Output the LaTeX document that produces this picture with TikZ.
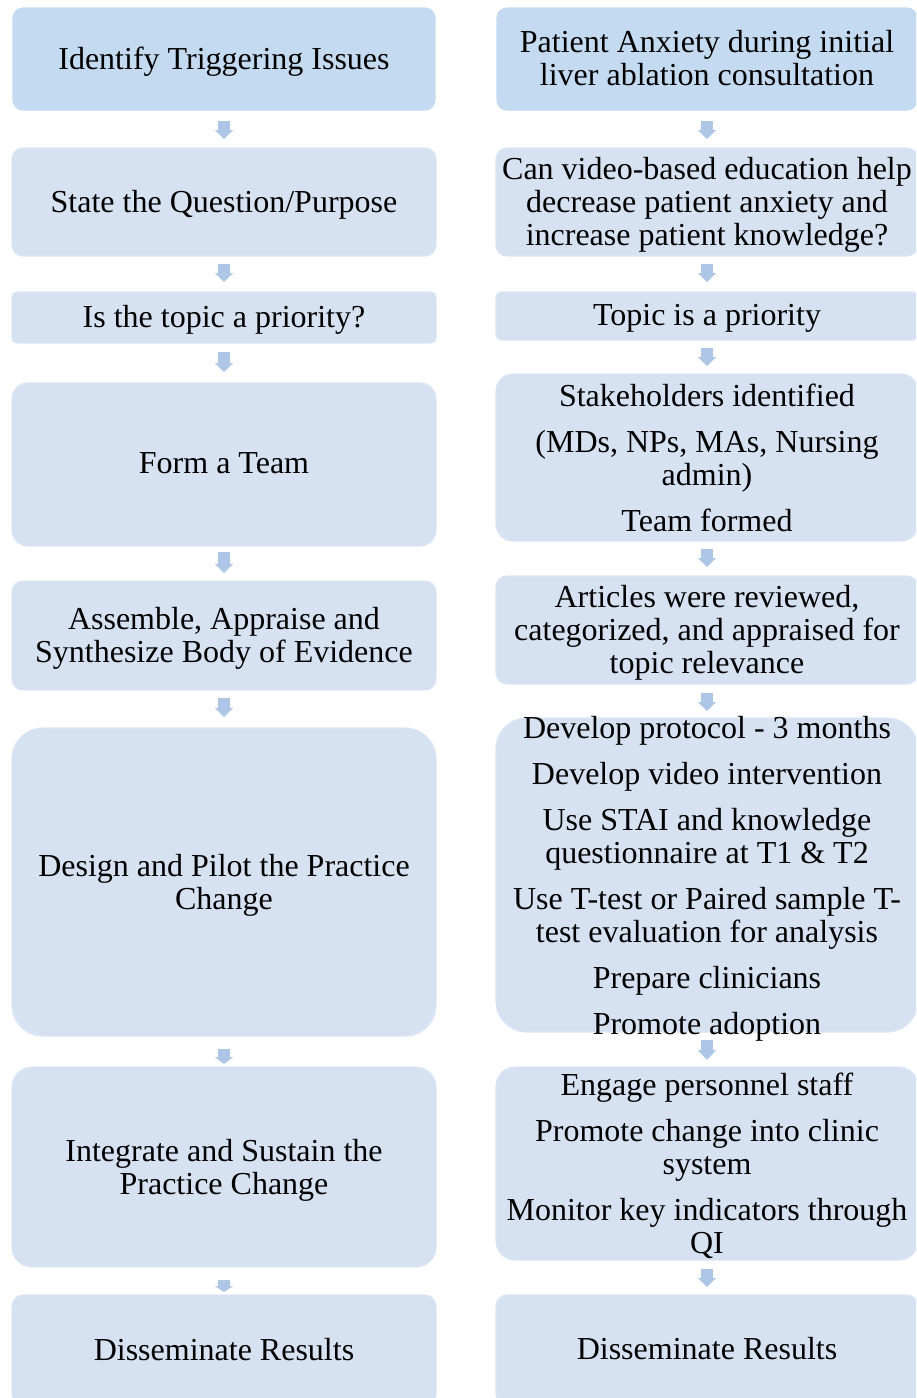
\documentclass[tikz,border=0pt]{standalone}
\usepackage{fontspec}
\setmainfont{Liberation Serif}
\usetikzlibrary{arrows.meta}

\definecolor{topfill}{HTML}{C4DAF0}
\definecolor{boxfill}{HTML}{D6E2F2}
\definecolor{boxedge}{HTML}{DCE6F4}
\definecolor{arrowc}{HTML}{AEC6E5}

\tikzset{
  box/.style={draw=boxedge, line width=1.2pt, fill=boxfill, inner sep=0pt, outer sep=0pt},
  topbox/.style={box, fill=topfill, draw=topfill},
  lcol/.style={minimum width=424pt},
  rcol/.style={minimum width=422pt},
  txt/.style={align=center, inner sep=0pt, yshift=-3pt, font=\fontsize{32}{33}\selectfont},
  barrow/.style={draw=arrowc, line width=12pt, -{Triangle[width=18pt,length=#1]}},
  barrow/.default=9pt
}

\newcommand{\pgap}{\\[13pt]}

\begin{document}
\begin{tikzpicture}[x=1pt, y=-1pt]
\useasboundingbox (0,0) rectangle (916,1398);
\clip (0,0) rectangle (916,1398);

% ---- left column: process steps ----
\node[topbox, minimum width=422pt, minimum height=102pt, rounded corners=10pt] (L1) at (224,59) {};
\node[box, lcol, minimum height=108pt, rounded corners=11pt] (L2) at (224,202) {};
\node[box, lcol, minimum height=51pt,  rounded corners=5pt]  (L3) at (224,317.5) {};
\node[box, lcol, minimum height=163pt, rounded corners=16pt] (L4) at (224,464.5) {};
\node[box, lcol, minimum height=109pt, rounded corners=11pt] (L5) at (224,635.5) {};
\node[box, lcol, minimum height=308pt, rounded corners=31pt] (L6) at (224,882) {};
\node[box, lcol, minimum height=200pt, rounded corners=20pt] (L7) at (224,1167) {};
\node[box, lcol, minimum height=110pt, rounded corners=11pt] (L8) at (224,1350) {};

\node[txt] (L1t) at (L1.center) {Identify Triggering Issues};
\node[txt] (L2t) at (L2.center) {State the Question/Purpose};
\node[txt, yshift=1pt] (L3t) at (L3.center) {Is the topic a priority?};
\node[txt, yshift=4pt] (L4t) at (L4.center) {Form a Team};
\node[txt] (L5t) at (L5.center) {Assemble, Appraise and\\Synthesize Body of Evidence};
\node[txt] (L6t) at (L6.center) {Design and Pilot the Practice\\Change};
\node[txt] (L7t) at (L7.center) {Integrate and Sustain the\\Practice Change};
\node[txt, yshift=3pt] (L8t) at (L8.center) {Disseminate Results};

% ---- right column: project details ----
\node[topbox, minimum width=420pt, minimum height=102pt, rounded corners=10pt] (R1) at (707,59) {};
\node[box, rcol, minimum height=108pt, rounded corners=11pt] (R2) at (707,202) {};
\node[box, rcol, minimum height=48pt,  rounded corners=5pt]  (R3) at (707,316) {};
\node[box, rcol, minimum height=167pt, rounded corners=17pt] (R4) at (707,457.5) {};
\node[box, rcol, minimum height=108pt, rounded corners=11pt] (R5) at (707,630) {};
\node[box, rcol, minimum height=314pt, rounded corners=31pt] (R6) at (707,875) {};
\node[box, rcol, minimum height=193pt, rounded corners=19pt] (R7) at (707,1163.5) {};
\node[box, rcol, minimum height=110pt, rounded corners=11pt] (R8) at (707,1350) {};

\node[txt, yshift=4pt] (R1t) at (R1.center) {Patient Anxiety during initial\\liver ablation consultation};
\node[txt] (R2t) at (R2.center) {Can video-based education help\\decrease patient anxiety and\\increase patient knowledge?};
\node[txt, yshift=1pt] (R3t) at (R3.center) {Topic is a priority};
\node[txt, yshift=3pt] (R4t) at (R4.center) {Stakeholders identified\pgap(MDs, NPs, MAs, Nursing\\admin)\pgap Team formed};
\node[txt] (R5t) at (R5.center) {Articles were reviewed,\\categorized, and appraised for\\topic relevance};
\node[txt, yshift=-1pt] (R6t) at (R6.center) {Develop protocol - 3 months\pgap Develop video intervention\pgap Use STAI and knowledge\\questionnaire at T1 \& T2\pgap Use T-test or Paired sample T-\\test evaluation for analysis\pgap Prepare clinicians\pgap Promote adoption};
\node[txt, yshift=1pt] (R7t) at (R7.center) {Engage personnel staff\pgap Promote change into clinic\\system\pgap Monitor key indicators through\\QI};
\node[txt, yshift=4pt] (R8t) at (R8.center) {Disseminate Results};

% ---- block arrows between steps ----
\draw[barrow, shorten <=11pt, shorten >=9pt]  (L1.south) -- (L2.north);
\draw[barrow, shorten <=8pt,  shorten >=10pt] (L2.south) -- (L3.north);
\draw[barrow, shorten <=9pt,  shorten >=11pt] (L3.south) -- (L4.north);
\draw[barrow, shorten <=6pt,  shorten >=8pt]  (L4.south) -- (L5.north);
\draw[barrow, shorten <=8pt,  shorten >=11pt] (L5.south) -- (L6.north);
\draw[barrow=7pt, shorten <=13pt, shorten >=3pt] (L6.south) -- (L7.north);
\draw[barrow=6pt, shorten <=13pt, shorten >=3pt] (L7.south) -- (L8.north);

\draw[barrow, shorten <=11pt, shorten >=9pt]  (R1.south) -- (R2.north);
\draw[barrow, shorten <=8pt,  shorten >=10pt] (R2.south) -- (R3.north);
\draw[barrow, shorten <=8pt,  shorten >=8pt]  (R3.south) -- (R4.north);
\draw[barrow, shorten <=8pt,  shorten >=9pt]  (R4.south) -- (R5.north);
\draw[barrow, shorten <=9pt,  shorten >=7pt]  (R5.south) -- (R6.north);
\draw[barrow=10pt, shorten <=8pt, shorten >=7pt] (R6.south) -- (R7.north);
\draw[barrow, shorten <=9pt,  shorten >=8pt]  (R7.south) -- (R8.north);
\end{tikzpicture}
\end{document}
